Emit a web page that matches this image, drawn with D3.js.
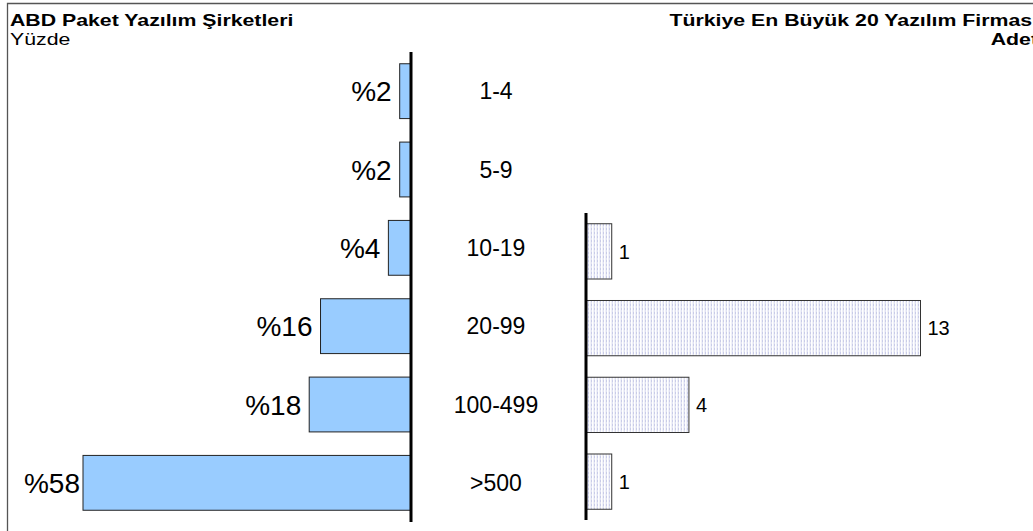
<!DOCTYPE html>
<html>
<head>
<meta charset="utf-8">
<script src="https://cdn.jsdelivr.net/npm/d3@7"></script>
<style>
  html, body { margin: 0; padding: 0; background: #fff; }
  svg { display: block; font-family: Arial, "Liberation Sans", sans-serif; }
</style>
</head>
<body>
<svg id="chart" width="1033" height="531"></svg>
<script>
// Employee-size bands shared by both panels
const sizeBands = ["1-4", "5-9", "10-19", "20-99", "100-499", ">500"];
// US packaged software companies, share of firms (%)
const usShare = [2, 2, 4, 16, 18, 58];
// Turkey's 20 largest software firms, count per band
const trBands = ["10-19", "20-99", "100-499", ">500"];
const trCount = [1, 13, 4, 1];

const svg = d3.select("#chart");

// pattern for the Turkey bars: fine pale vertical hatching
const defs = svg.append("defs");
const pat = defs.append("pattern")
  .attr("id", "vhatch").attr("patternUnits", "userSpaceOnUse")
  .attr("width", 3).attr("height", 4);
pat.append("rect").attr("width", 3).attr("height", 4).attr("fill", "#ffffff");
pat.append("rect").attr("x", 0).attr("width", 1).attr("height", 2).attr("fill", "#c9cce8");
pat.append("rect").attr("x", 0).attr("y", 2).attr("width", 1).attr("height", 2).attr("fill", "#dfe1f2");
pat.append("rect").attr("x", 2).attr("width", 1).attr("height", 4).attr("fill", "#f0f1f9");

// outer frame
svg.append("path")
  .attr("d", "M7.5,540 V3.5 H1040")
  .attr("fill", "none").attr("stroke", "#555").attr("stroke-width", 1.3);

// titles (wide-set heading type)
function heading(x, y, anchor, weight, txt) {
  svg.append("text")
    .attr("transform", `translate(${x},${y}) scale(1.29,1)`)
    .attr("text-anchor", anchor)
    .attr("font-size", 16.5).attr("font-weight", weight).attr("fill", "#000")
    .text(txt);
}
heading(10, 26, "start", "bold", "ABD Paket Yazılım Şirketleri");
heading(10, 45, "start", "normal", "Yüzde");
heading(1038, 26, "end", "bold", "Türkiye En Büyük 20 Yazılım Firması");
heading(1038, 45, "end", "bold", "Adet");

// ---- left panel: bars grow leftwards from the axis ----
const leftAxisX = 411;
const yL = d3.scaleBand().domain(sizeBands).range([52, 522]).paddingInner(0.3).paddingOuter(0.15);
const xL = d3.scaleLinear().domain([0, 58]).range([leftAxisX, 83]);

svg.append("g").selectAll("rect").data(usShare).join("rect")
  .attr("x", d => xL(d))
  .attr("y", (d, i) => yL(sizeBands[i]))
  .attr("width", d => leftAxisX - xL(d))
  .attr("height", yL.bandwidth())
  .attr("fill", "#99ccff")
  .attr("stroke", "#222").attr("stroke-width", 1);

svg.append("g").selectAll("text").data(usShare).join("text")
  .attr("x", d => Math.max(xL(d) - 8, 80))
  .attr("y", (d, i) => yL(sizeBands[i]) + yL.bandwidth() / 2)
  .attr("dy", "0.36em")
  .attr("text-anchor", "end")
  .attr("font-size", 28).attr("fill", "#000")
  .text(d => "%" + d);

svg.append("line")
  .attr("x1", leftAxisX).attr("x2", leftAxisX)
  .attr("y1", 52).attr("y2", 522)
  .attr("stroke", "#000").attr("stroke-width", 3);

// category labels between the panels
svg.append("g").selectAll("text").data(sizeBands).join("text")
  .attr("x", 496)
  .attr("y", d => yL(d) + yL.bandwidth() / 2)
  .attr("dy", "0.36em")
  .attr("text-anchor", "middle")
  .attr("font-size", 23).attr("fill", "#000")
  .text(d => d);

// ---- right panel: bars grow rightwards ----
const rightAxisX = 586;
const yR = d3.scaleBand().domain(trBands).range([213, 520]).paddingInner(0.28).paddingOuter(0.14);
const xR = d3.scaleLinear().domain([0, 13]).range([rightAxisX, 920.5]);

svg.append("g").selectAll("rect").data(trCount).join("rect")
  .attr("x", rightAxisX)
  .attr("y", (d, i) => yR(trBands[i]))
  .attr("width", d => xR(d) - rightAxisX)
  .attr("height", yR.bandwidth())
  .attr("fill", "url(#vhatch)")
  .attr("stroke", "#333").attr("stroke-width", 1);

svg.append("g").selectAll("text").data(trCount).join("text")
  .attr("x", d => xR(d) + 7)
  .attr("y", (d, i) => yR(trBands[i]) + yR.bandwidth() / 2)
  .attr("dy", "0.36em")
  .attr("font-size", 20).attr("fill", "#000")
  .text(d => d);

svg.append("line")
  .attr("x1", rightAxisX).attr("x2", rightAxisX)
  .attr("y1", 213).attr("y2", 520)
  .attr("stroke", "#000").attr("stroke-width", 3);
</script>
</body>
</html>
